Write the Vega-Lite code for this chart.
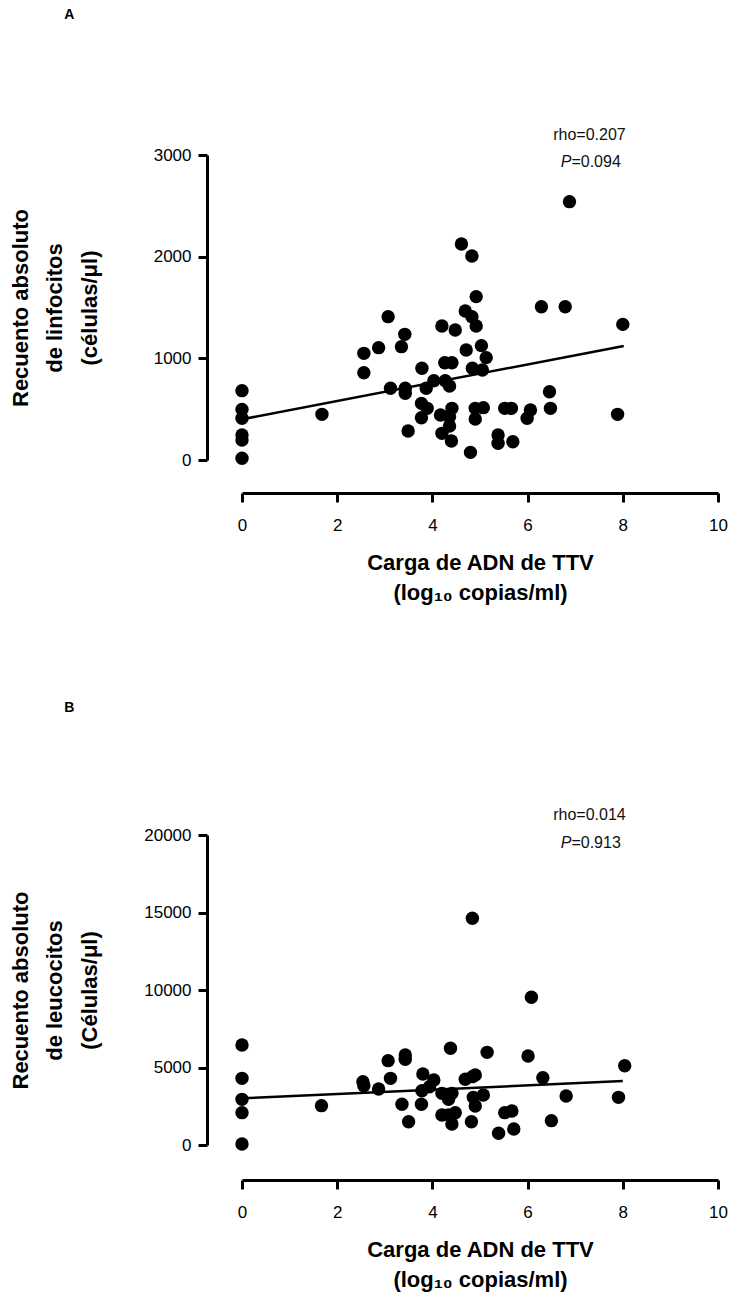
{
  "$schema": "https://vega.github.io/schema/vega-lite/v6.json",
  "padding": {"left": 9, "top": 8, "right": 0, "bottom": 5},
  "background": "white",
  "config": {
    "view": {"stroke": null},
    "font": "Liberation Sans",
    "text": {"font": "Liberation Sans"},
    "axis": {
      "grid": false,
      "domainColor": "black",
      "domainWidth": 3,
      "tickColor": "black",
      "tickWidth": 3,
      "tickSize": 9,
      "labelColor": "black",
      "labelFont": "Liberation Sans",
      "labelFontSize": 17,
      "labelFlush": false,
      "labelOverlap": false,
      "format": "d",
      "titleColor": "black",
      "titleFont": "Liberation Sans, DejaVu Sans",
      "titleFontSize": 22,
      "titleFontWeight": "bold"
    }
  },
  "bounds": "flush",
  "spacing": 375,
  "datasets": {
    "ptsA": [
      {"x": 0, "y": 682}, {"x": 0, "y": 498}, {"x": 0, "y": 410}, {"x": 0, "y": 246}, {"x": 0, "y": 197}, {"x": 0, "y": 17},
      {"x": 1.68, "y": 449}, {"x": 2.56, "y": 1049}, {"x": 2.56, "y": 859}, {"x": 2.87, "y": 1105}, {"x": 3.07, "y": 1410},
      {"x": 3.12, "y": 705}, {"x": 3.42, "y": 1236}, {"x": 3.35, "y": 1115}, {"x": 3.43, "y": 705}, {"x": 3.43, "y": 656},
      {"x": 3.49, "y": 285}, {"x": 3.78, "y": 902}, {"x": 3.77, "y": 557}, {"x": 3.89, "y": 508}, {"x": 3.77, "y": 416},
      {"x": 3.87, "y": 705}, {"x": 4.03, "y": 780}, {"x": 4.17, "y": 443}, {"x": 4.2, "y": 1318}, {"x": 4.26, "y": 957},
      {"x": 4.41, "y": 957}, {"x": 4.27, "y": 780}, {"x": 4.36, "y": 728}, {"x": 4.48, "y": 1279}, {"x": 4.41, "y": 508},
      {"x": 4.36, "y": 426}, {"x": 4.36, "y": 334}, {"x": 4.2, "y": 262}, {"x": 4.4, "y": 187}, {"x": 4.61, "y": 2125},
      {"x": 4.83, "y": 2006}, {"x": 4.92, "y": 1607}, {"x": 4.69, "y": 1466}, {"x": 4.83, "y": 1410}, {"x": 4.92, "y": 1318},
      {"x": 4.71, "y": 1082}, {"x": 5.03, "y": 1125}, {"x": 5.13, "y": 1007}, {"x": 4.84, "y": 902}, {"x": 5.05, "y": 885},
      {"x": 4.9, "y": 508}, {"x": 5.07, "y": 515}, {"x": 4.9, "y": 403}, {"x": 4.8, "y": 75}, {"x": 5.52, "y": 508},
      {"x": 5.66, "y": 508}, {"x": 5.38, "y": 246}, {"x": 5.38, "y": 164}, {"x": 5.69, "y": 180}, {"x": 6.06, "y": 492},
      {"x": 5.99, "y": 410}, {"x": 6.29, "y": 1508}, {"x": 6.79, "y": 1508}, {"x": 6.46, "y": 672}, {"x": 6.48, "y": 508},
      {"x": 6.88, "y": 2541}, {"x": 8.0, "y": 1334}, {"x": 7.89, "y": 449}
    ],
    "lineA": [{"x": 0, "y": 400}, {"x": 8.02, "y": 1122}],
    "ptsB": [
      {"x": 0, "y": 6452}, {"x": 0, "y": 4301}, {"x": 0, "y": 2946}, {"x": 0, "y": 2086}, {"x": 0, "y": 65},
      {"x": 1.67, "y": 2538}, {"x": 2.54, "y": 4086}, {"x": 2.56, "y": 3828}, {"x": 2.87, "y": 3613}, {"x": 3.07, "y": 5441},
      {"x": 3.12, "y": 4301}, {"x": 3.43, "y": 5806}, {"x": 3.43, "y": 5527}, {"x": 3.36, "y": 2624}, {"x": 3.5, "y": 1505},
      {"x": 3.8, "y": 4581}, {"x": 3.78, "y": 3505}, {"x": 3.77, "y": 2624}, {"x": 4.03, "y": 4194}, {"x": 3.94, "y": 3763},
      {"x": 4.2, "y": 3333}, {"x": 4.2, "y": 1935}, {"x": 4.38, "y": 6237}, {"x": 4.41, "y": 3333}, {"x": 4.34, "y": 2946},
      {"x": 4.48, "y": 2086}, {"x": 4.41, "y": 1355}, {"x": 4.34, "y": 1935}, {"x": 4.69, "y": 4237}, {"x": 4.84, "y": 4409},
      {"x": 4.9, "y": 4516}, {"x": 4.84, "y": 14624}, {"x": 4.86, "y": 3075}, {"x": 5.07, "y": 3226}, {"x": 4.9, "y": 2516},
      {"x": 4.82, "y": 1505}, {"x": 5.15, "y": 5978}, {"x": 5.39, "y": 753}, {"x": 5.52, "y": 2086}, {"x": 5.67, "y": 2194},
      {"x": 5.71, "y": 1032}, {"x": 6.08, "y": 9527}, {"x": 6.01, "y": 5742}, {"x": 6.32, "y": 4344}, {"x": 6.5, "y": 1570},
      {"x": 6.81, "y": 3161}, {"x": 8.04, "y": 5118}, {"x": 7.91, "y": 3075}
    ],
    "lineB": [{"x": 0, "y": 3010}, {"x": 8.0, "y": 4130}]
  },
  "vconcat": [
    {
      "width": 476,
      "height": 305,
      "encoding": {
        "x": {
          "field": "x", "type": "quantitative",
          "scale": {"domain": [0, 10], "nice": false, "zero": false},
          "axis": {
            "offset": 33, "values": [0, 2, 4, 6, 8, 10], "labelPadding": 15,
            "title": ["Carga de ADN de TTV", "(log₁₀ copias/ml)"],
            "titlePadding": 19, "titleLineHeight": 30
          }
        },
        "y": {
          "field": "y", "type": "quantitative",
          "scale": {"domain": [0, 3000], "nice": false, "zero": false},
          "axis": {
            "offset": 35, "values": [0, 1000, 2000, 3000], "labelPadding": 7,
            "title": ["Recuento absoluto", "de linfocitos", "(células/μl)"],
            "titlePadding": 52, "titleLineHeight": 34.5
          }
        }
      },
      "layer": [
        {"data": {"name": "lineA"}, "mark": {"type": "line", "color": "black", "strokeWidth": 2.5}},
        {"data": {"name": "ptsA"}, "mark": {"type": "circle", "size": 180, "color": "black", "opacity": 1}},
        {
          "data": {"values": [{"x": 7.3, "y": 3197, "t": "rho=0.207"}]},
          "mark": {"type": "text", "font": "Liberation Sans", "fontSize": 16, "align": "center", "baseline": "middle", "color": "#111"},
          "encoding": {"text": {"field": "t"}}
        },
        {
          "data": {"values": [{"x": 6.92, "y": 2931, "t": "P"}]},
          "mark": {"type": "text", "font": "Liberation Sans", "fontSize": 16, "fontStyle": "italic", "align": "right", "baseline": "middle", "color": "#111"},
          "encoding": {"text": {"field": "t"}}
        },
        {
          "data": {"values": [{"x": 6.92, "y": 2931, "t": "=0.094"}]},
          "mark": {"type": "text", "font": "Liberation Sans", "fontSize": 16, "align": "left", "baseline": "middle", "color": "#111"},
          "encoding": {"text": {"field": "t"}}
        },
        {
          "data": {"values": [{"x": -3.63, "y": 4377, "t": "A"}]},
          "mark": {"type": "text", "font": "Liberation Sans", "fontSize": 14, "fontWeight": "bold", "align": "center", "baseline": "middle", "color": "black"},
          "encoding": {"text": {"field": "t"}}
        }
      ]
    },
    {
      "width": 476,
      "height": 310,
      "encoding": {
        "x": {
          "field": "x", "type": "quantitative",
          "scale": {"domain": [0, 10], "nice": false, "zero": false},
          "axis": {
            "offset": 35, "values": [0, 2, 4, 6, 8, 10], "labelPadding": 15,
            "title": ["Carga de ADN de TTV", "(log₁₀ copias/ml)"],
            "titlePadding": 19, "titleLineHeight": 30
          }
        },
        "y": {
          "field": "y", "type": "quantitative",
          "scale": {"domain": [0, 20000], "nice": false, "zero": false},
          "axis": {
            "offset": 35, "values": [0, 5000, 10000, 15000, 20000], "labelPadding": 7,
            "title": ["Recuento absoluto", "de leucocitos", "(Células/μl)"],
            "titlePadding": 42.7, "titleLineHeight": 34.5
          }
        }
      },
      "layer": [
        {"data": {"name": "lineB"}, "mark": {"type": "line", "color": "black", "strokeWidth": 2.5}},
        {"data": {"name": "ptsB"}, "mark": {"type": "circle", "size": 180, "color": "black", "opacity": 1}},
        {
          "data": {"values": [{"x": 7.3, "y": 21290, "t": "rho=0.014"}]},
          "mark": {"type": "text", "font": "Liberation Sans", "fontSize": 16, "align": "center", "baseline": "middle", "color": "#111"},
          "encoding": {"text": {"field": "t"}}
        },
        {
          "data": {"values": [{"x": 6.92, "y": 19484, "t": "P"}]},
          "mark": {"type": "text", "font": "Liberation Sans", "fontSize": 16, "fontStyle": "italic", "align": "right", "baseline": "middle", "color": "#111"},
          "encoding": {"text": {"field": "t"}}
        },
        {
          "data": {"values": [{"x": 6.92, "y": 19484, "t": "=0.913"}]},
          "mark": {"type": "text", "font": "Liberation Sans", "fontSize": 16, "align": "left", "baseline": "middle", "color": "#111"},
          "encoding": {"text": {"field": "t"}}
        },
        {
          "data": {"values": [{"x": -3.63, "y": 28194, "t": "B"}]},
          "mark": {"type": "text", "font": "Liberation Sans", "fontSize": 14, "fontWeight": "bold", "align": "center", "baseline": "middle", "color": "black"},
          "encoding": {"text": {"field": "t"}}
        }
      ]
    }
  ]
}
